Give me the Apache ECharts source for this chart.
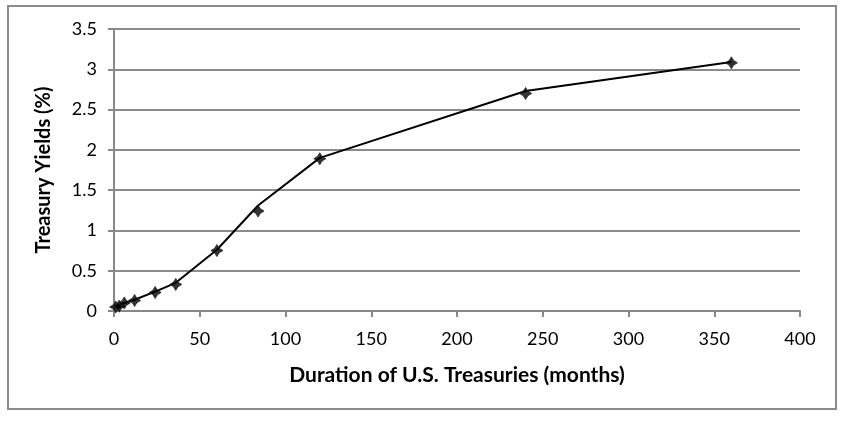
<!DOCTYPE html>
<html><head><meta charset="utf-8">
<script src="https://cdn.jsdelivr.net/npm/echarts@6/dist/echarts.min.js"></script>
<style>html,body{margin:0;padding:0;background:#fff}#c{width:845px;height:422px}</style>
</head><body><div id="c"></div>
<script>
const durations = [1, 3, 6, 12, 24, 36, 60, 84, 120, 240, 360];
const yieldsObserved = [0.05, 0.06, 0.10, 0.13, 0.23, 0.33, 0.75, 1.24, 1.89, 2.70, 3.08];
const yieldsLine = [0.05, 0.07, 0.10, 0.14, 0.24, 0.35, 0.76, 1.31, 1.90, 2.73, 3.09];
const xTicks = [0, 50, 100, 150, 200, 250, 300, 350, 400];
const yTicks = [0, 0.5, 1, 1.5, 2, 2.5, 3, 3.5];

const font = 'Lato, "Open Sans", sans-serif';
const chart = echarts.init(document.getElementById('c'), null, {renderer: 'canvas'});
const star = 'path://M0,-5 L1.9,-1.9 L5,0 L1.9,1.9 L0,5 L-1.9,1.9 L-5,0 L-1.9,-1.9 Z';
chart.setOption({
  animation: false,
  graphic: [{type: 'rect', shape: {x: 8, y: 6, width: 828, height: 403}, style: {fill: 'none', stroke: '#8c8c8c', lineWidth: 2}}],
  grid: {left: 114, right: 45, top: 29, bottom: 111},
  xAxis: {
    type: 'value', min: xTicks[0], max: xTicks[xTicks.length - 1], interval: 50,
    name: 'Duration of U.S. Treasuries (months)', nameLocation: 'middle', nameGap: 54,
    nameTextStyle: {fontFamily: font, fontSize: 21, fontWeight: 'bold', color: '#000'},
    axisLine: {show: true, lineStyle: {color: '#888', width: 2}},
    axisTick: {show: true, length: 6, lineStyle: {color: '#888', width: 2}},
    axisLabel: {fontFamily: font, fontSize: 18, color: '#000', margin: 19},
    splitLine: {show: false}
  },
  yAxis: {
    type: 'value', min: yTicks[0], max: yTicks[yTicks.length - 1], interval: 0.5,
    name: 'Treasury Yields (%)', nameLocation: 'middle', nameGap: 60,
    nameTextStyle: {fontFamily: font, fontSize: 20, fontWeight: 'bold', color: '#000'},
    axisLine: {show: true, lineStyle: {color: '#888', width: 2}},
    axisTick: {show: true, length: 6, lineStyle: {color: '#888', width: 2}},
    axisLabel: {fontFamily: font, fontSize: 18, color: '#000', margin: 17},
    splitLine: {show: true, lineStyle: {color: '#8c8c8c', width: 2}}
  },
  series: [
    {type: 'line', data: durations.map((d, i) => [d, yieldsLine[i]]), showSymbol: false, symbol: 'none',
     lineStyle: {color: '#000', width: 2}, z: 3},
    {type: 'scatter', data: durations.map((d, i) => [d, yieldsObserved[i]]), symbol: star, symbolSize: 12,
     itemStyle: {color: '#000', borderColor: '#222', borderWidth: 1}, z: 4}
  ]
});
</script></body></html>
